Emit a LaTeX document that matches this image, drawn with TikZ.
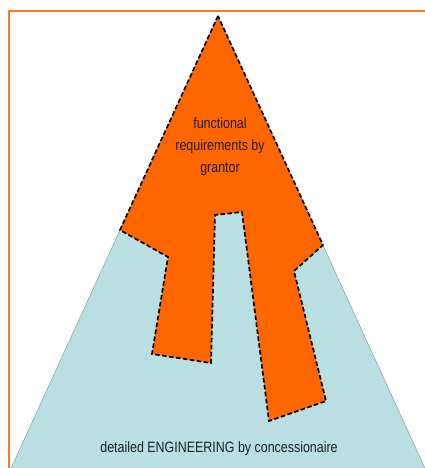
\documentclass[tikz,border=0pt]{standalone}
\usepackage{fontspec}
\setmainfont{Liberation Sans}
\definecolor{frameorange}{HTML}{F7782A}
\definecolor{reqorange}{HTML}{FF6600}
\definecolor{engblue}{HTML}{B9DFE3}
\definecolor{edgegray}{HTML}{8FA9AD}
\definecolor{labeltext}{HTML}{1E1E1E}
\tikzset{
  frameline/.style={draw=frameorange, line width=1.6pt},
  basetri/.style={fill=engblue, draw=edgegray, line width=0.6pt},
  reqshape/.style={fill=reqorange, draw=black, line width=1.7pt, dash pattern=on 4.5pt off 2.5pt},
  label/.style={text=labeltext, font=\fontsize{15}{22}\selectfont, xscale=0.83, align=center, inner sep=0pt}
}
\begin{document}
\begin{tikzpicture}[x=1pt,y=-1pt]
  \useasboundingbox (0,0) rectangle (425,468);
  \clip (0,0) rectangle (425,468);
  % page frame (only its top and left sides fall on the page)
  \draw[frameline] (9,11) rectangle (440,480);
  % engineering triangle
  \fill[basetri] (218,16) -- (7.5,476) -- (428.5,476) -- cycle;
  % functional requirements: triangle tip with two prongs reaching down
  \path[reqshape] (218,16) -- (120,230) -- (168,257) -- (152,354) -- (211,363)
        -- (215,215) -- (242,212) -- (269,421) -- (326,401) -- (294,271)
        -- (323,245) -- cycle;
  % a multi-line node's base anchor sits on its last line
  \node[label, anchor=base] (req) at (220,172)
    {functional\\requirements by\\grantor};
  \node[label, anchor=base] (eng) at (219,452.5)
    {detailed ENGINEERING by concessionaire};
\end{tikzpicture}
\end{document}
